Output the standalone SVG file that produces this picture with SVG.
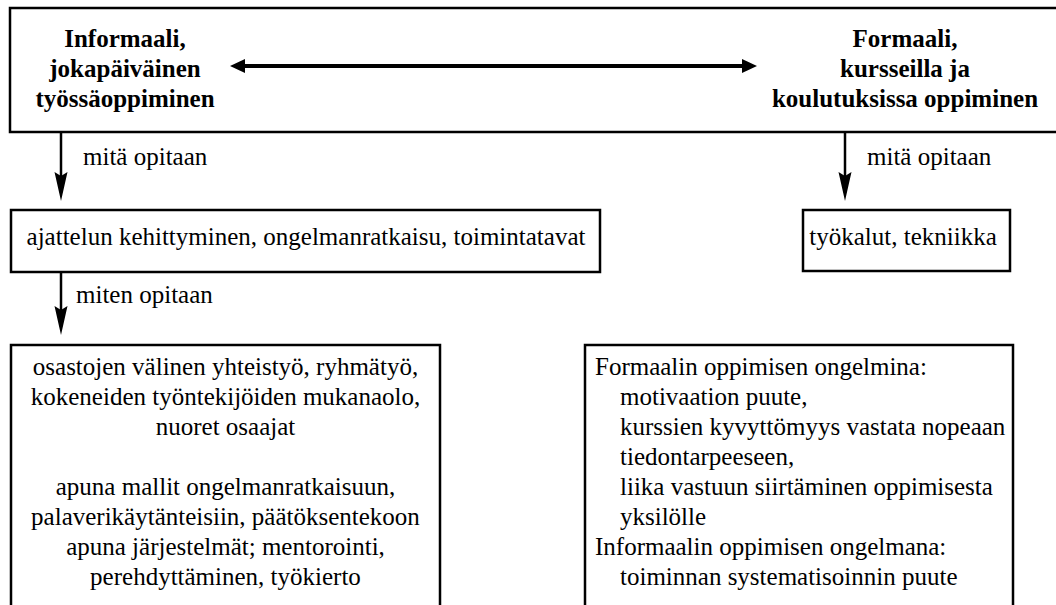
<svg xmlns="http://www.w3.org/2000/svg" width="1056" height="605" viewBox="0 0 1056 605" font-family="Liberation Serif" font-size="25">
<style>
text{font-family:"Liberation Serif","Times New Roman",serif;font-size:25px;fill:#000}
.box{fill:#fff;stroke:#000;stroke-width:2.5}
.b{font-weight:bold}
.c{text-anchor:middle}
.ln{stroke:#000;stroke-width:2.5;fill:none}
.dbl{stroke:#000;stroke-width:4}
</style>
<rect width="1056" height="605" fill="#fff"/>
<g id="top">
<rect class="box" x="10" y="8" width="1060" height="124"/>
<text class="b c" x="125" y="47">Informaali,</text>
<text class="b c" x="125" y="77">jokapäiväinen</text>
<text class="b c" x="125" y="107">työssäoppiminen</text>
<text class="b c" x="905" y="47">Formaali,</text>
<text class="b c" x="905" y="77">kursseilla ja</text>
<text class="b c" x="905" y="107">koulutuksissa oppiminen</text>
</g>
<g id="what-informal">
<rect class="box" x="11" y="210" width="589" height="62"/>
<text class="c" x="306" y="245">ajattelun kehittyminen, ongelmanratkaisu, toimintatavat</text>
</g>
<g id="what-formal">
<rect class="box" x="803" y="210" width="207" height="61"/>
<text class="c" x="903" y="245">työkalut, tekniikka</text>
</g>
<g id="how-informal">
<rect class="box" x="11" y="345" width="429" height="280"/>
<text class="c" x="225.5" y="375">osastojen välinen yhteistyö, ryhmätyö,</text>
<text class="c" x="225.5" y="405">kokeneiden työntekijöiden mukanaolo,</text>
<text class="c" x="225.5" y="435">nuoret osaajat</text>
<text class="c" x="225.5" y="495">apuna mallit ongelmanratkaisuun,</text>
<text class="c" x="225.5" y="525">palaverikäytänteisiin, päätöksentekoon</text>
<text class="c" x="225.5" y="555">apuna järjestelmät; mentorointi,</text>
<text class="c" x="225.5" y="585">perehdyttäminen, työkierto</text>
</g>
<g id="problems">
<rect class="box" x="585" y="345" width="428" height="280"/>
<text x="595" y="375">Formaalin oppimisen ongelmina:</text>
<text x="620" y="405">motivaation puute,</text>
<text x="620" y="435">kurssien kyvyttömyys vastata nopeaan</text>
<text x="620" y="465">tiedontarpeeseen,</text>
<text x="620" y="495">liika vastuun siirtäminen oppimisesta</text>
<text x="620" y="525">yksilölle</text>
<text x="595" y="555">Informaalin oppimisen ongelmana:</text>
<text x="620" y="585">toiminnan systematisoinnin puute</text>
</g>
<g id="connectors">
<line class="dbl" x1="243" y1="66" x2="745" y2="66"/>
<polygon points="230,66 245,59 245,73"/>
<polygon points="757,66 742,59 742,73"/>
<line class="ln" x1="61" y1="132" x2="61" y2="178"/>
<polygon points="61,201 54.5,172 61,176 67.5,172"/>
<text x="83" y="165">mitä opitaan</text>
<line class="ln" x1="61" y1="272" x2="61" y2="312"/>
<polygon points="61,335 54.5,306 61,310 67.5,306"/>
<text x="76" y="303">miten opitaan</text>
<line class="ln" x1="845" y1="132" x2="845" y2="178"/>
<polygon points="845,201 838.5,172 845,176 851.5,172"/>
<text x="867" y="165">mitä opitaan</text>
</g>
</svg>
